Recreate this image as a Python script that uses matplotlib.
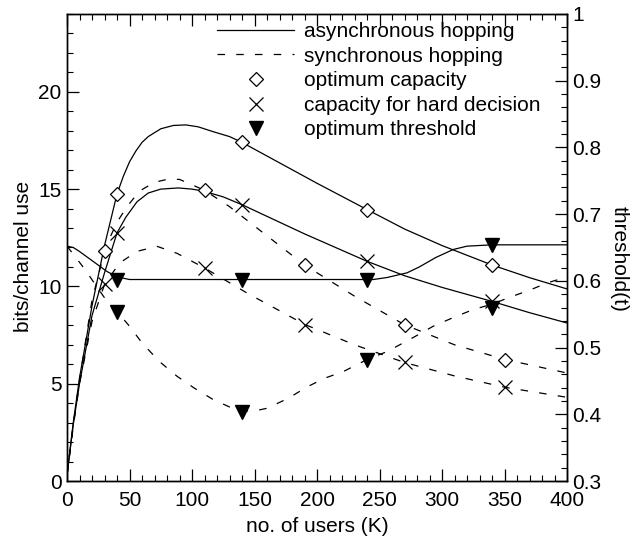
import matplotlib
matplotlib.use('Agg')
import matplotlib.pyplot as plt
from matplotlib.lines import Line2D
from matplotlib.ticker import MultipleLocator

plt.rcParams['font.family'] = ['Liberation Sans', 'DejaVu Sans']

# ---- data ----
# asynchronous hopping, optimum capacity (solid, upper)
x_async_opt = [0, 5, 10, 20, 30, 40, 45, 50, 55, 60, 65, 75, 85, 95, 105, 117, 130, 140, 170, 200, 240, 270, 300, 340, 370, 400]
y_async_opt = [0.3, 3.0, 5.3, 9.0, 12.1, 14.75, 15.65, 16.4, 16.95, 17.4, 17.7, 18.1, 18.27, 18.3, 18.2, 17.95, 17.7, 17.4, 16.35, 15.3, 13.95, 12.95, 12.1, 11.1, 10.45, 9.87]
# asynchronous hopping, hard decision capacity (solid, lower)
x_async_hard = [0, 5, 10, 20, 30, 40, 47, 56, 65, 75, 89, 100, 109, 125, 140, 190, 240, 270, 300, 340, 370, 400]
y_async_hard = [0.3, 2.9, 5.0, 8.5, 10.7, 12.75, 13.55, 14.35, 14.8, 15.0, 15.06, 15.0, 14.9, 14.6, 14.2, 12.7, 11.29, 10.55, 9.95, 9.23, 8.65, 8.12]
# synchronous hopping, optimum capacity (dashed, upper)
x_sync_opt = [0, 5, 10, 20, 30, 35, 40, 48, 58, 70, 80, 90, 110, 130, 150, 170, 190, 230, 270, 310, 350, 400]
y_sync_opt = [0.3, 2.9, 5.2, 9.3, 11.8, 12.6, 13.3, 14.1, 14.9, 15.35, 15.5, 15.5, 14.94, 14.1, 13.1, 12.1, 11.1, 9.5, 8.03, 7.0, 6.25, 5.55]
# synchronous hopping, hard decision capacity (dashed, lower)
x_sync_hard = [0, 5, 10, 20, 30, 42, 56, 72, 88, 110, 144, 190, 230, 270, 310, 350, 400]
y_sync_hard = [0.3, 2.8, 5.0, 8.2, 10.1, 11.2, 11.8, 12.06, 11.7, 10.95, 9.66, 8.05, 7.0, 6.09, 5.4, 4.82, 4.3]

# optimum thresholds (right axis)
x_th_async = [0, 5, 10, 21, 32, 40, 50, 60, 100, 150, 200, 245, 256, 272, 282, 295, 309, 320, 340, 400]
t_th_async = [0.652, 0.650, 0.644, 0.629, 0.614, 0.606, 0.602, 0.602, 0.602, 0.602, 0.602, 0.602,
              0.605, 0.612, 0.621, 0.635, 0.647, 0.652, 0.654, 0.654]
x_th_sync = [0, 5, 14, 25, 34, 40, 50, 60, 74, 88, 102, 117, 130, 140, 150, 160, 177, 192, 206, 221,
             240, 256, 275, 293, 309, 325, 340, 355, 370, 385, 395, 400]
t_th_sync = [0.652, 0.640, 0.618, 0.588, 0.564, 0.554, 0.532, 0.507, 0.479, 0.457, 0.439, 0.422,
             0.411, 0.405, 0.405, 0.409, 0.424, 0.441, 0.454, 0.464, 0.482, 0.494, 0.513, 0.532,
             0.545, 0.557, 0.565, 0.576, 0.586, 0.5975, 0.603, 0.605]

# markers
xd_async = [40, 140, 240, 340]
yd_async = [14.75, 17.4, 13.95, 11.12]
xd_sync = [30, 110, 190, 270, 350]
yd_sync = [11.8, 14.94, 11.1, 8.03, 6.23]
xx_async = [40, 140, 240, 340]
yx_async = [12.75, 14.2, 11.29, 9.23]
xx_sync = [30, 110, 190, 270, 350]
yx_sync = [10.1, 10.95, 8.03, 6.09, 4.82]
xt_async = [40, 140, 240, 340]
tt_async = [0.602, 0.602, 0.602, 0.654]
xt_sync = [40, 140, 240, 340]
tt_sync = [0.554, 0.403, 0.482, 0.560]

legend_labels = ['asynchronous hopping', 'synchronous hopping', 'optimum capacity',
                 'capacity for hard decision', 'optimum threshold']

# ---- figure ----
fig = plt.figure(figsize=(6.31, 5.44), dpi=100)
ax = fig.add_axes([0.1062, 0.1158, 0.7924, 0.8585])
ax2 = ax.twinx()

lw = 0.9
dash = (0, (6, 9))

ax.plot(x_async_opt, y_async_opt, color='k', lw=lw)
ax.plot(x_async_hard, y_async_hard, color='k', lw=lw)
ax.plot(x_sync_opt, y_sync_opt, color='k', lw=lw, ls=dash)
ax.plot(x_sync_hard, y_sync_hard, color='k', lw=lw, ls=dash)

mk_d = dict(ls='none', marker='D', mfc='white', mec='k', ms=7, mew=0.9)
mk_x = dict(ls='none', marker='x', color='k', ms=10, mew=0.9)
mk_v = dict(ls='none', marker='v', color='k', ms=10)

ax.plot(xd_async, yd_async, **mk_d)
ax.plot(xd_sync, yd_sync, **mk_d)
ax.plot(xx_async, yx_async, **mk_x)
ax.plot(xx_sync, yx_sync, **mk_x)

ax2.plot(x_th_async, t_th_async, color='k', lw=lw)
ax2.plot(x_th_sync, t_th_sync, color='k', lw=lw, ls=dash)
ax2.plot(xt_async, tt_async, **mk_v)
ax2.plot(xt_sync, tt_sync, **mk_v)

ax.set_xlim(0, 400)
ax.set_ylim(0, 24)
ax2.set_ylim(0.3, 1.0)

ax.xaxis.set_major_locator(MultipleLocator(50))
ax.xaxis.set_minor_locator(MultipleLocator(10))
ax.yaxis.set_major_locator(MultipleLocator(5))
ax.yaxis.set_minor_locator(MultipleLocator(1))
ax2.yaxis.set_major_locator(MultipleLocator(0.1))
ax2.yaxis.set_minor_locator(MultipleLocator(0.02))
ax2.set_yticks([0.3, 0.4, 0.5, 0.6, 0.7, 0.8, 0.9, 1.0])
ax2.set_yticklabels(['0.3', '0.4', '0.5', '0.6', '0.7', '0.8', '0.9', '1'])

ax.tick_params(which='both', direction='in', top=True, right=False, labelsize=15)
ax.tick_params(which='major', length=8.5, width=0.9)
ax.tick_params(axis='y', which='major', pad=4)
ax.tick_params(axis='x', which='major', pad=7)
ax.tick_params(which='minor', length=4.3, width=0.8)
ax2.tick_params(which='both', direction='in', labelsize=15)
ax2.tick_params(which='major', length=8.5, width=0.9, pad=4)
ax2.tick_params(which='minor', length=4.3, width=0.8)

for a in (ax, ax2):
    for s in a.spines.values():
        s.set_linewidth(1.0)

ax.set_xlabel('no. of users (K)', fontsize=15, labelpad=5)
ax.set_ylabel('bits/channel use', fontsize=15)
ax2.set_ylabel('threshold(t)', fontsize=15, rotation=270, va='bottom')
ax.yaxis.set_label_coords(-0.068, 0.48)
ax2.yaxis.set_label_coords(1.085, 0.475)

handles = [
    Line2D([], [], color='k', lw=lw),
    Line2D([], [], color='k', lw=lw, ls=dash),
    Line2D([], [], **mk_d),
    Line2D([], [], **mk_x),
    Line2D([], [], **mk_v),
]
ax2.legend(handles, legend_labels, loc='upper right', bbox_to_anchor=(0.946, 0.983),
           frameon=False, fontsize=15, handlelength=3.7, handletextpad=0.45,
           labelspacing=0.27, borderpad=0, borderaxespad=0, numpoints=1)

fig.savefig('out.png', dpi=100)
